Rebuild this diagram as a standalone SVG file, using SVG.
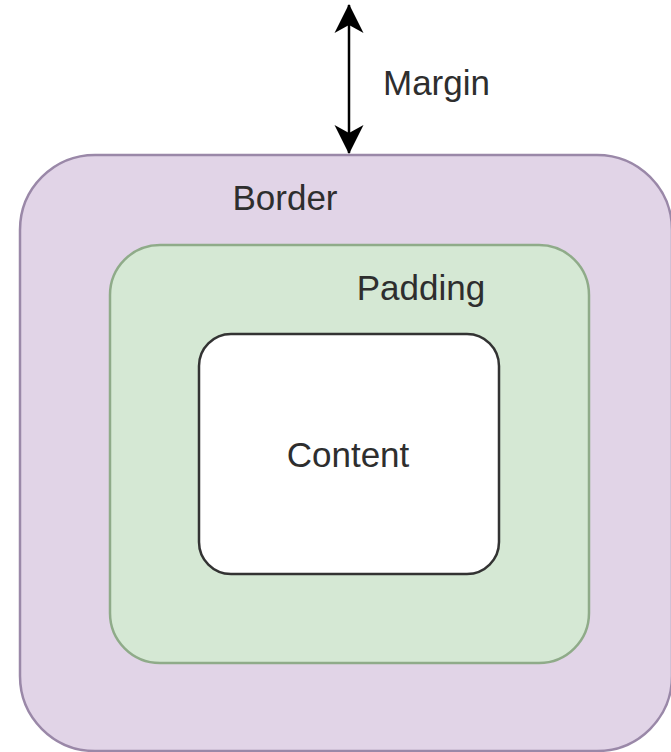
<svg xmlns="http://www.w3.org/2000/svg" width="671" height="752" viewBox="0 0 671 752">
  <style>
    .lbl { font-family: "Liberation Sans", Arial, sans-serif; font-size: 35px; fill: #2e2e2e; }
  </style>
  <defs>
    <marker id="ah" viewBox="0 0 30 30" refX="28" refY="15" markerWidth="30" markerHeight="30" markerUnits="userSpaceOnUse" orient="auto-start-reverse">
      <path d="M0,0.5 L29,15 L0,29.5 L8,15 Z" fill="#000"/>
    </marker>
  </defs>
  <rect width="671" height="752" fill="#ffffff"/>
  <g id="border">
    <rect x="20" y="155" width="652" height="596" rx="75" ry="75" fill="#e1d4e7" stroke="#9a88a8" stroke-width="2.5"/>
    <text class="lbl" x="285" y="210" text-anchor="middle">Border</text>
  </g>
  <g id="padding">
    <rect x="110" y="245" width="479" height="418" rx="50" ry="50" fill="#d5e8d4" stroke="#8fab89" stroke-width="2.5"/>
    <text class="lbl" x="421" y="300" text-anchor="middle">Padding</text>
  </g>
  <g id="content">
    <rect x="199" y="334" width="300" height="240" rx="32" ry="32" fill="#ffffff" stroke="#333333" stroke-width="2.5"/>
    <text class="lbl" x="348" y="467" text-anchor="middle">Content</text>
  </g>
  <g id="connectors">
    <line x1="349" y1="153" x2="349" y2="5" stroke="#000" stroke-width="2.5" marker-start="url(#ah)" marker-end="url(#ah)"/>
  </g>
  <g id="margin-label">
    <text class="lbl" x="383" y="95">Margin</text>
  </g>
</svg>
